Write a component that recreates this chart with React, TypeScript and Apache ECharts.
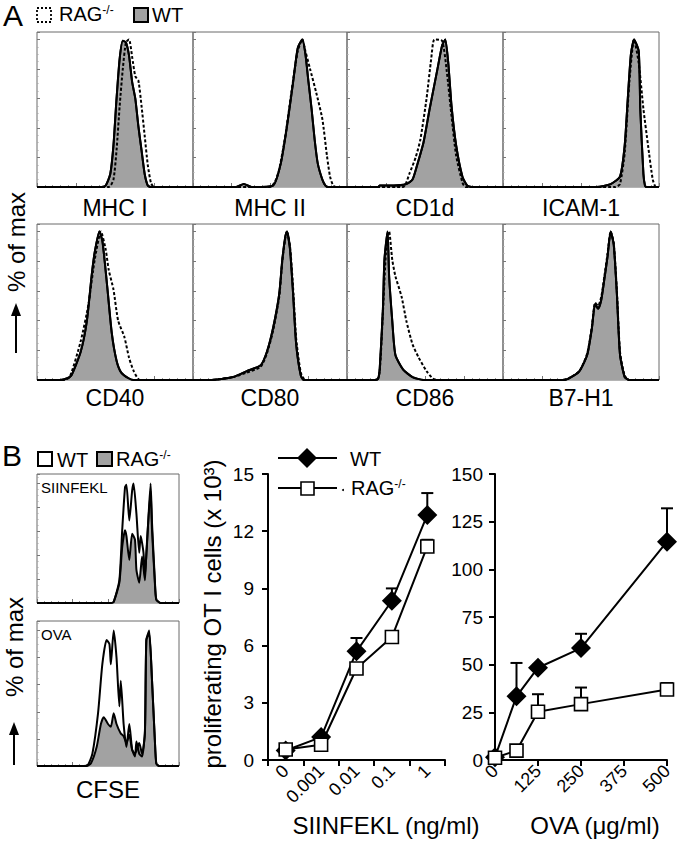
import React, { useEffect, useRef } from "react";
import * as echarts from "echarts";

// ---------- Panel A histograms: [position % of axis, % of max] ----------
const mhc1WT = [[0,0],[40,0],[44,1],[47,9],[49,28],[51,60],[53,87],[55,99],[57,98],[59,89],[61,71],[63,60],[65,41],[67,25],[69,9],[71,1],[73,0],[100,0]];
const mhc1RAG = [[0,0],[46,0],[49,5],[51,25],[53,55],[55,80],[57,98],[59,100],[61,88],[63,75],[65,72],[67,55],[69,35],[71,15],[73,3],[75,0],[100,0]];
const mhc2WT = [[0,0],[28,0],[33,2],[38,0],[52,1],[57,16],[61,41],[65,71],[68,94],[71,100],[73,90],[75,71],[77,53],[79,32],[81,16],[84,5],[86,1],[88,0],[100,0]];
const mhc2RAG = [[0,0],[50,0],[53,3],[56,12],[60,35],[64,65],[68,92],[71,100],[73,92],[76,80],[80,64],[84,46],[87,21],[89,7],[91,1],[93,0],[100,0]];
const cd1dWT = [[0,0],[20,0],[21,1],[30,1],[38,2],[42,5],[45,15],[49,30],[53,53],[58,80],[61,96],[63,100],[65,83],[67,55],[70,28],[74,7],[77,1],[80,0],[100,0]];
const cd1dRAG = [[0,0],[36,0],[40,9],[44,20],[47,32],[51,60],[54,87],[56,100],[61,99],[64,78],[67,48],[70,21],[74,3],[76,0],[100,0]];
const icamWT = [[0,0],[60,0],[69,2],[75,7],[78,28],[80,60],[82,90],[84,100],[87,92],[88,53],[90,9],[91,1],[92,0],[100,0]];
const icamRAG = [[0,0],[72,0],[75,2],[78,23],[81,71],[84,100],[87,84],[90,53],[93,28],[96,5],[98,0],[100,0]];
const cd40WT = [[0,0],[15,0],[19,1],[22,3],[28,19],[32,40],[35,70],[37,86],[40,100],[42,93],[45,63],[48,31],[51,13],[54,5],[59,1],[62,0],[100,0]];
const cd40RAG = [[0,0],[17,0],[21,2],[28,26],[33,51],[37,81],[41,100],[44,88],[46,74],[49,61],[52,40],[56,29],[59,15],[62,6],[66,0],[100,0]];
const cd80WT = [[0,0],[11,0],[26,2],[35,6],[44,10],[48,19],[52,35],[56,58],[58,81],[60,97],[61,100],[63,88],[65,58],[67,24],[70,3],[72,0],[100,0]];
const cd80RAG = [[0,0],[11,0],[26,2],[35,5],[44,9],[48,18],[52,33],[56,56],[58,80],[60,96],[61,100],[63,90],[65,62],[67,28],[70,5],[73,0],[100,0]];
const cd86WT = [[0,0],[18,0],[20,1],[21,8],[23,47],[24,81],[26,100],[27,70],[29,40],[31,17],[36,7],[42,2],[49,0],[100,0]];
const cd86RAG = [[0,0],[19,0],[21,6],[23,45],[25,86],[27,100],[29,81],[31,70],[35,56],[38,40],[42,24],[46,15],[51,6],[55,1],[58,0],[100,0]];
const b7WT = [[0,0],[38,0],[42,1],[49,6],[54,17],[57,35],[59,51],[61,48],[63,54],[65,68],[67,83],[69,100],[71,91],[73,58],[75,17],[78,2],[81,0],[100,0]];
const b7RAG = [[0,0],[38,0],[42,1],[49,6],[54,18],[57,36],[59,52],[61,50],[63,56],[65,70],[67,85],[69,100],[71,92],[73,60],[75,19],[78,3],[81,0],[100,0]];

// ---------- Panel B CFSE histograms ----------
const siiWT = [[0,0],[52,0],[54,1],[58,19],[60,61],[62,97],[63,99],[65,69],[67,94],[68,100],[70,75],[72,42],[73,56],[75,42],[76,22],[78,61],[80,100],[81,67],[83,19],[84,3],[87,0],[100,0]];
const siiRAG = [[0,0],[52,0],[54,1],[58,17],[60,47],[62,61],[63,56],[65,36],[67,58],[69,53],[70,28],[72,17],[74,39],[76,19],[77,42],[80,94],[81,61],[83,17],[84,3],[87,0],[100,0]];
const ovaHistWT = [[0,0],[33,0],[36,1],[39,9],[43,39],[46,75],[49,93],[51,90],[52,75],[54,100],[56,80],[58,44],[59,63],[61,31],[63,14],[65,31],[67,12],[69,7],[70,18],[72,9],[74,7],[76,26],[77,93],[79,98],[81,63],[83,19],[84,2],[86,0],[100,0]];
const ovaHistRAG = [[0,0],[35,0],[38,2],[42,14],[45,31],[47,36],[50,31],[52,29],[54,39],[56,31],[59,24],[61,22],[63,17],[65,23],[67,12],[69,9],[72,17],[74,9],[76,24],[77,93],[79,100],[81,63],[83,19],[84,2],[86,0],[100,0]];

// ---------- Panel B proliferation ----------
const sinCats = ["0", "0.001", "0.01", "0.1", "1"];
const sinWT = [0.5, 1.2, 5.7, 8.35, 12.85];
const sinWTErr = [0.15, 0.15, 0.7, 0.65, 1.15];
const sinRAG = [0.55, 0.8, 4.8, 6.45, 11.2];
const sinRAGErr = [0.1, 0.1, 0.2, 0.2, 0.35];

const ovaDose = [0, 62.5, 125, 250, 500];
const ovaWT = [1.5, 33.4, 48.4, 58.7, 114.5];
const ovaWTErr = [0.5, 17.5, 1.5, 7.5, 17.5];
const ovaRAG = [1.2, 4.9, 25.3, 29.3, 37];
const ovaRAGErr = [0.5, 1, 9.2, 8.7, 3.4];

const topLabels = ["MHC I", "MHC II", "CD1d", "ICAM-1"];
const bottomLabels = ["CD40", "CD80", "CD86", "B7-H1"];

const FONT = "'Liberation Sans', Arial, Helvetica, sans-serif";
const GRAY = "#a2a2a2";

export default function App() {
  const ref = useRef<HTMLDivElement>(null);
  useEffect(() => {
    if (!ref.current) return;
    const chart = echarts.init(ref.current, undefined, { renderer: "svg" });

    const grids: any[] = [];
    const xAxes: any[] = [];
    const yAxes: any[] = [];
    const series: any[] = [];
    const graphics: any[] = [];

    const histAxes = (ymax: number) => {
      xAxes.push({
        type: "value", gridIndex: grids.length - 1, min: 0, max: 100, interval: 25,
        axisLine: { show: false },
        axisTick: { show: true, inside: true, length: 4, lineStyle: { color: "#777", width: 1 } },
        minorTick: { show: true, splitNumber: 5, length: 2, lineStyle: { color: "#999" } },
        axisLabel: { show: false }, splitLine: { show: false },
      });
      yAxes.push({
        type: "value", gridIndex: grids.length - 1, min: 0, max: ymax, interval: 20,
        axisLine: { show: false },
        axisTick: { show: true, inside: true, length: 3, lineStyle: { color: "#777", width: 1 } },
        minorTick: { show: true, splitNumber: 4, length: 1.5, lineStyle: { color: "#aaa" } },
        axisLabel: { show: false }, splitLine: { show: false },
      });
    };

    const addGrid = (left: number, top: number, width: number, height: number, box: boolean) => {
      grids.push({ left, top, width, height, show: box, borderColor: "#6a6a6a", borderWidth: 1, backgroundColor: "transparent" });
      return grids.length - 1;
    };

    const lineS = (gi: number, data: number[][], opts: { fill?: boolean; dashed?: boolean; z: number }) => ({
      type: "line", xAxisIndex: gi, yAxisIndex: gi, data, symbol: "none", showSymbol: false,
      smooth: 0.2, z: opts.z,
      lineStyle: { color: "#000", width: 2, type: opts.dashed ? [3, 2] : "solid" },
      areaStyle: opts.fill ? { color: GRAY, opacity: 1 } : undefined,
    });

    // Panel A
    const aTops = [32, 224];
    const aLefts = [37, 193, 347, 503];
    const aW = [156, 154, 156, 156];
    const aData = [
      [mhc1WT, mhc1RAG], [mhc2WT, mhc2RAG], [cd1dWT, cd1dRAG], [icamWT, icamRAG],
      [cd40WT, cd40RAG], [cd80WT, cd80RAG], [cd86WT, cd86RAG], [b7WT, b7RAG],
    ];
    for (let r = 0; r < 2; r++) {
      for (let c = 0; c < 4; c++) {
        const gi = addGrid(aLefts[c], aTops[r], aW[c], r === 0 ? 155 : 156, true);
        histAxes(105);
        const [wt, rag] = aData[r * 4 + c];
        series.push(lineS(gi, wt, { fill: true, z: 2 }));
        series.push(lineS(gi, rag, { dashed: true, z: 3 }));
        series.push(lineS(gi, wt, { z: 4 }));
        const lbl = r === 0 ? topLabels[c] : bottomLabels[c];
        graphics.push({
          type: "text", x: aLefts[c] + aW[c] / 2, y: r === 0 ? 208 : 398,
          style: { text: lbl, font: `23px ${FONT}`, fill: "#000", align: "center", verticalAlign: "middle" },
        });
      }
    }

    // Panel B CFSE histograms
    const g8 = addGrid(37, 474, 142, 129, true);
    histAxes(108);
    series.push(lineS(g8, siiRAG, { fill: true, z: 2 }));
    series.push(lineS(g8, siiWT, { z: 3 }));
    const g9 = addGrid(37, 621, 142, 145, true);
    histAxes(107);
    series.push(lineS(g9, ovaHistRAG, { fill: true, z: 2 }));
    series.push(lineS(g9, ovaHistWT, { z: 3 }));

    const axisBlack = { lineStyle: { color: "#000", width: 2 } };
    const labelStyle = { color: "#000", fontSize: 19, fontFamily: FONT };

    // Middle chart
    const g10 = addGrid(268, 474, 177, 286, false);
    xAxes.push({
      type: "category", gridIndex: g10, data: sinCats, boundaryGap: true,
      axisLine: axisBlack, axisTick: { show: true, length: 6, lineStyle: { color: "#000", width: 2 } },
      axisLabel: { ...labelStyle, fontSize: 18, rotate: 45, margin: 8, interval: 0 },
      splitLine: { show: false },
    });
    yAxes.push({
      type: "value", gridIndex: g10, min: 0, max: 15, interval: 3,
      axisLine: { show: true, ...axisBlack }, axisTick: { show: true, length: 6, lineStyle: { color: "#000", width: 2 } },
      axisLabel: { ...labelStyle, margin: 14 }, splitLine: { show: false },
    });

    // Right chart
    const g11 = addGrid(495, 474, 172, 286, false);
    xAxes.push({
      type: "value", gridIndex: g11, min: 0, max: 500, interval: 125,
      axisLine: axisBlack, axisTick: { show: true, length: 6, lineStyle: { color: "#000", width: 2 } },
      axisLabel: { ...labelStyle, fontSize: 18, rotate: 45, margin: 8 },
      splitLine: { show: false },
    });
    yAxes.push({
      type: "value", gridIndex: g11, min: 0, max: 150, interval: 25,
      axisLine: { show: true, ...axisBlack }, axisTick: { show: true, length: 6, lineStyle: { color: "#000", width: 2 } },
      axisLabel: { ...labelStyle, margin: 12 }, splitLine: { show: false },
    });

    const errSeries = (gi: number, data: number[][]) => ({
      type: "custom", xAxisIndex: gi, yAxisIndex: gi, z: 1, data,
      renderItem: (params: any, api: any) => {
        const x = api.value(0), y = api.value(1), e = api.value(2);
        const p0 = api.coord([x, y]);
        const p1 = api.coord([x, y + e]);
        return {
          type: "group",
          children: [
            { type: "line", shape: { x1: p0[0], y1: p0[1], x2: p1[0], y2: p1[1] }, style: { stroke: "#000", lineWidth: 2 } },
            { type: "line", shape: { x1: p1[0] - 6, y1: p1[1], x2: p1[0] + 6, y2: p1[1] }, style: { stroke: "#000", lineWidth: 2 } },
          ],
        };
      },
    });

    const wtLine = (gi: number, data: any[]) => ({
      type: "line", xAxisIndex: gi, yAxisIndex: gi, data, symbol: "diamond", symbolSize: 20, z: 3,
      itemStyle: { color: "#000" }, lineStyle: { color: "#000", width: 2 },
    });
    const ragLine = (gi: number, data: any[]) => ({
      type: "line", xAxisIndex: gi, yAxisIndex: gi, data, symbol: "rect", symbolSize: 13, z: 4,
      itemStyle: { color: "#fff", borderColor: "#000", borderWidth: 1.6 }, lineStyle: { color: "#000", width: 2 },
    });

    series.push(errSeries(g10, sinWT.map((v, i) => [i, v, sinWTErr[i]])));
    series.push(errSeries(g10, sinRAG.map((v, i) => [i, v, sinRAGErr[i]])));
    series.push(wtLine(g10, sinWT.map((v, i) => [i, v])));
    series.push(ragLine(g10, sinRAG.map((v, i) => [i, v])));

    series.push(errSeries(g11, ovaWT.map((v, i) => [ovaDose[i], v, ovaWTErr[i]])));
    series.push(errSeries(g11, ovaRAG.map((v, i) => [ovaDose[i], v, ovaRAGErr[i]])));
    series.push(wtLine(g11, ovaWT.map((v, i) => [ovaDose[i], v])));
    series.push(ragLine(g11, ovaRAG.map((v, i) => [ovaDose[i], v])));

    const txt = (x: number, y: number, text: string, size: number, align = "left", extra: any = {}) => ({
      type: "text", x, y, ...extra,
      style: { text, font: `${size}px ${FONT}`, fill: "#000", align, verticalAlign: "middle" },
    });
    const supText = (x: number, y: number, main: string, sup: string, size: number) => ({
      type: "text", x, y,
      style: {
        text: `{m|${main}}{s|${sup}}`, fill: "#000", align: "left", verticalAlign: "middle",
        rich: {
          m: { fontSize: size, fontFamily: FONT, fill: "#000", verticalAlign: "top", lineHeight: size + 2 },
          s: { fontSize: Math.round(size * 0.6), fontFamily: FONT, fill: "#000", verticalAlign: "top", lineHeight: size + 2 },
        },
      },
    });

    // Top legend A
    graphics.push(txt(3, 15, "A", 30));
    graphics.push({ type: "rect", shape: { x: 37, y: 8, width: 14, height: 14 }, style: { fill: "none", stroke: "#000", lineWidth: 1.8, lineDash: [2, 2] } });
    graphics.push(supText(59, 15, "RAG", "-/-", 20));
    graphics.push({ type: "rect", shape: { x: 134, y: 8, width: 14, height: 14 }, style: { fill: GRAY, stroke: "#000", lineWidth: 2 } });
    graphics.push(txt(152, 15, "WT", 20));

    // % of max A
    graphics.push(txt(16, 242, "% of max", 24, "center", { rotation: Math.PI / 2 }));
    graphics.push({ type: "line", shape: { x1: 16, y1: 353, x2: 16, y2: 312 }, style: { stroke: "#000", lineWidth: 2 } });
    graphics.push({ type: "polygon", shape: { points: [[16, 303], [11, 316], [21, 316]] }, style: { fill: "#000" } });

    // B legend
    graphics.push(txt(2, 455, "B", 30));
    graphics.push({ type: "rect", shape: { x: 38, y: 452, width: 14, height: 14 }, style: { fill: "#fff", stroke: "#000", lineWidth: 2 } });
    graphics.push(txt(57, 460, "WT", 20));
    graphics.push({ type: "rect", shape: { x: 97, y: 452, width: 15, height: 14 }, style: { fill: GRAY, stroke: "#000", lineWidth: 2 } });
    graphics.push(supText(116, 460, "RAG", "-/-", 20));

    graphics.push(txt(41, 487, "SIINFEKL", 15));
    graphics.push(txt(41, 634, "OVA", 15));
    graphics.push(txt(108, 789, "CFSE", 24, "center"));

    // % of max B
    graphics.push(txt(14, 647, "% of max", 24, "center", { rotation: Math.PI / 2 }));
    graphics.push({ type: "line", shape: { x1: 14, y1: 765, x2: 14, y2: 731 }, style: { stroke: "#000", lineWidth: 2 } });
    graphics.push({ type: "polygon", shape: { points: [[14, 722], [9, 735], [19, 735]] }, style: { fill: "#000" } });

    // middle chart legend
    graphics.push({ type: "line", shape: { x1: 278, y1: 458, x2: 337, y2: 458 }, style: { stroke: "#000", lineWidth: 2 } });
    graphics.push({ type: "polygon", shape: { points: [[307, 448], [317, 458], [307, 468], [297, 458]] }, style: { fill: "#000" } });
    graphics.push(txt(350, 459, "WT", 20));
    graphics.push({ type: "line", shape: { x1: 278, y1: 488, x2: 337, y2: 488 }, style: { stroke: "#000", lineWidth: 2 } });
    graphics.push({ type: "rect", shape: { x: 301, y: 482, width: 13, height: 13 }, style: { fill: "#fff", stroke: "#000", lineWidth: 1.6 } });
    graphics.push({ type: "circle", shape: { cx: 343, cy: 490, r: 1 }, style: { fill: "#000" } });
    graphics.push(supText(351, 489, "RAG", "-/-", 20));

    // axis titles
    graphics.push(txt(212, 614, "proliferating OT I cells (x 10³)", 24, "center", { rotation: Math.PI / 2 }));
    graphics.push(txt(386, 825, "SIINFEKL (ng/ml)", 24, "center"));
    graphics.push(txt(595, 825, "OVA (μg/ml)", 24, "center"));

    chart.setOption({
      animation: false,
      backgroundColor: "#fff",
      textStyle: { fontFamily: FONT },
      grid: grids,
      xAxis: xAxes,
      yAxis: yAxes,
      series,
      graphic: { elements: graphics },
    });
    return () => chart.dispose();
  }, []);

  return <div ref={ref} style={{ position: "absolute", left: 0, top: 0, width: 678, height: 853, background: "#fff" }} />;
}
